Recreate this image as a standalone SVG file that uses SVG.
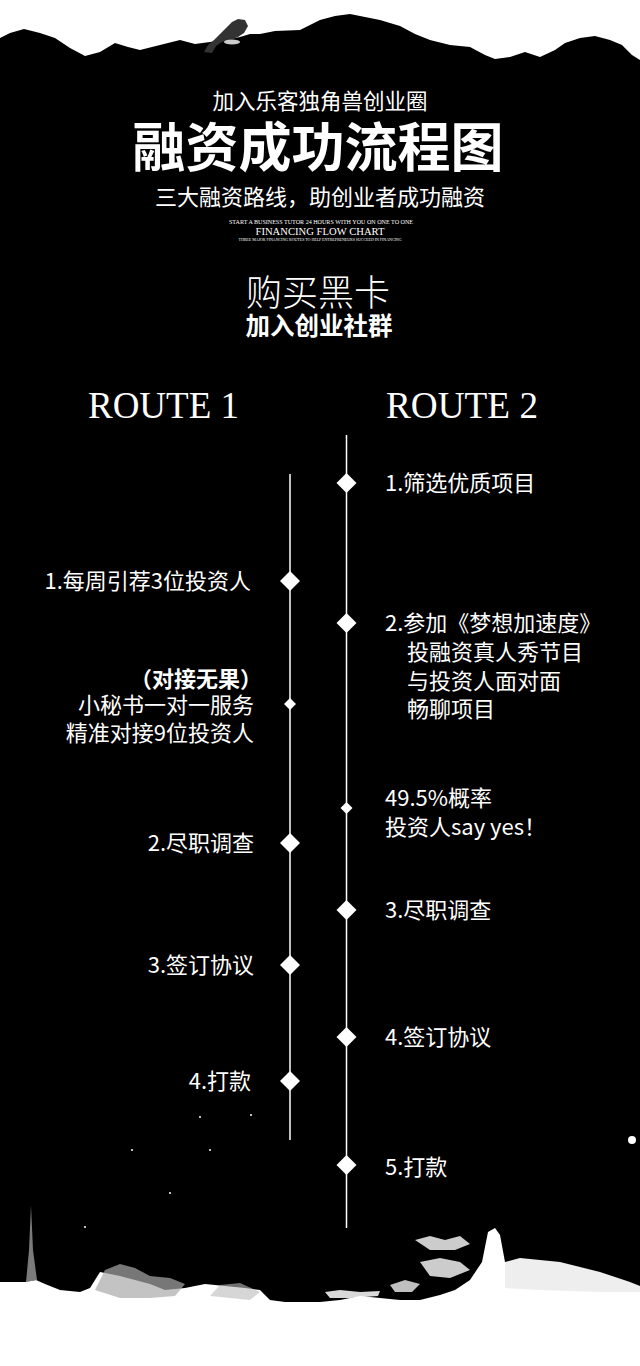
<svg xmlns="http://www.w3.org/2000/svg" width="640" height="1366" viewBox="0 0 640 1366">
<style>
.cn{font-family:"Noto Sans CJK SC","Noto Sans",sans-serif;fill:#fff;}
.step{font-size:22px;}
.en{font-family:"Liberation Serif","DejaVu Serif",serif;fill:#fff;}
.line{stroke:#fff;stroke-width:1.5;fill:none;}
.dia{fill:#fff;}
</style>
<defs>
<path id="d" d="M0,-10 L10,0 L0,10 L-10,0 Z"/>
<path id="ds" d="M0,-6 L6,0 L0,6 L-6,0 Z"/>
</defs>
<rect x="0" y="0" width="640" height="1366" fill="#fff"/>
<g id="ink">
<path fill="#000" d="M0,38 L10,33 L24,29 L40,33 L55,38 L70,48 L85,56 L100,52 L115,43 L128,47 L140,50 L160,45 L180,40 L195,44 L210,42 L225,40 L240,37 L250,34 L260,34 L275,31 L300,30 L320,20 L335,16 L350,14 L365,17 L380,20 L400,26 L415,34 L430,40 L450,45 L470,47 L485,55 L495,59 L510,57 L525,52 L540,57 L555,50 L565,43 L580,38 L595,36 L610,40 L622,45 L632,55 L640,60 L640,1290 L620,1285 L600,1280 L580,1272 L560,1268 L540,1266 L520,1264 L505,1262 L500,1235 L495,1228 L488,1232 L482,1262 L470,1280 L455,1290 L440,1295 L420,1300 L400,1300 L380,1298 L360,1296 L340,1300 L320,1302 L300,1302 L285,1302 L270,1300 L260,1290 L245,1288 L225,1286 L205,1284 L185,1288 L165,1290 L150,1284 L135,1280 L120,1276 L100,1272 L90,1288 L80,1292 L60,1290 L45,1284 L36,1280 L25,1282 L15,1282 L0,1282 Z"/>
<path fill="#333" d="M204,52 L208,45 L214,40 L220,34 L226,28 L232,22 L238,19 L245,20 L248,26 L244,33 L238,37 L230,40 L222,42 L216,46 L212,53 Z"/>
<ellipse cx="232" cy="42" rx="8" ry="2.5" fill="#fff" opacity="0.8"/>
<path fill="#999" opacity="0.8" d="M26,1282 L29,1250 L31,1205 L33,1250 L37,1280 Z"/>
<path fill="#aaa" opacity="0.7" d="M95,1290 L105,1270 L120,1264 L135,1268 L150,1276 L170,1278 L185,1284 L175,1296 L150,1298 L120,1298 Z"/>
<path fill="#bbb" opacity="0.6" d="M210,1296 L220,1285 L240,1283 L260,1292 L250,1300 Z"/>
<path fill="#fff" opacity="0.85" d="M325,1292 L340,1290 L360,1292 L380,1291 L378,1296 L350,1298 L330,1298 Z"/>
<path fill="#fff" opacity="0.8" d="M420,1262 L440,1258 L460,1262 L470,1270 L450,1278 L430,1276 Z"/>
<path fill="#fff" opacity="0.8" d="M415,1240 L430,1236 L445,1240 L460,1236 L470,1244 L455,1250 L430,1250 Z"/>
<path fill="#fff" opacity="0.75" d="M390,1285 L405,1280 L420,1284 L412,1292 L395,1292 Z"/>
<path fill="#eee" d="M505,1262 L520,1258 L560,1262 L600,1272 L630,1282 L640,1286 L640,1292 L600,1292 L540,1290 L505,1288 Z"/>
<circle cx="632" cy="1140" r="4" fill="#fff"/>
<circle cx="200" cy="1117" r="1" fill="#fff"/>
<circle cx="251" cy="1115" r="1" fill="#fff"/>
<circle cx="132" cy="1150" r="1" fill="#fff"/>
<circle cx="210" cy="1150" r="1" fill="#fff"/>
<circle cx="170" cy="1193" r="1" fill="#fff"/>
<circle cx="85" cy="1227" r="1" fill="#fff"/>
</g>
<g id="header">
<text class="cn" x="320" y="109" font-size="21.5" text-anchor="middle">加入乐客独角兽创业圈</text>
<text class="cn" x="318" y="167" font-size="53" font-weight="700" text-anchor="middle">融资成功流程图</text>
<text class="cn" x="320" y="205" font-size="22" text-anchor="middle">三大融资路线，助创业者成功融资</text>
<text class="en" x="321" y="224" font-size="5.5" text-anchor="middle" textLength="184" lengthAdjust="spacingAndGlyphs">START A BUSINESS TUTOR 24 HOURS WITH YOU ON ONE TO ONE</text>
<text class="en" x="320" y="235" font-size="10.5" text-anchor="middle" textLength="129" lengthAdjust="spacingAndGlyphs">FINANCING FLOW CHART</text>
<text class="en" x="320" y="241" font-size="4" text-anchor="middle" textLength="163" lengthAdjust="spacingAndGlyphs">THREE MAJOR FINANCING ROUTES TO HELP ENTREPRENEURS SUCCEED IN FINANCING</text>
</g>
<g id="start">
<text class="cn" x="318" y="306" font-size="36" font-weight="300" text-anchor="middle">购买黑卡</text>
<text class="cn" x="319" y="335" font-size="24.5" font-weight="700" text-anchor="middle">加入创业社群</text>
</g>
<g id="route1-title"><text class="en" x="88" y="418" font-size="38" textLength="151" lengthAdjust="spacingAndGlyphs">ROUTE 1</text></g>
<g id="route2-title"><text class="en" x="386" y="418" font-size="38" textLength="152" lengthAdjust="spacingAndGlyphs">ROUTE 2</text></g>
<g id="connectors">
<line class="line" x1="290" y1="474" x2="290" y2="1140"/>
<line class="line" x1="346.5" y1="435" x2="346.5" y2="1228"/>
</g>
<g id="r2-step1"><use href="#d" class="dia" x="346.5" y="483"/><text class="cn step" x="385" y="491.4">1.筛选优质项目</text></g>
<g id="r1-step1"><use href="#d" class="dia" x="290" y="581"/><text class="cn step" x="251" y="589.4" text-anchor="end">1.每周引荐3位投资人</text></g>
<g id="r2-step2"><use href="#d" class="dia" x="346.5" y="623"/>
<text class="cn step" x="385" y="631.4">2.参加《梦想加速度》</text>
<text class="cn step" x="407" y="660.4">投融资真人秀节目</text>
<text class="cn step" x="407" y="689.4">与投资人面对面</text>
<text class="cn step" x="407" y="717.4">畅聊项目</text></g>
<g id="r1-fallback"><use href="#ds" class="dia" x="290" y="704"/>
<text class="cn step" x="262" y="687.4" font-weight="700" text-anchor="end">（对接无果）</text>
<text class="cn step" x="254" y="713.4" text-anchor="end">小秘书一对一服务</text>
<text class="cn step" x="254" y="741.4" text-anchor="end">精准对接9位投资人</text></g>
<g id="r2-yes"><use href="#ds" class="dia" x="346.5" y="808"/>
<text class="cn step" x="385" y="806.4">49.5%概率</text>
<text class="cn step" x="385" y="835.4">投资人say yes！</text></g>
<g id="r1-step2"><use href="#d" class="dia" x="290" y="843"/><text class="cn step" x="254" y="851.4" text-anchor="end">2.尽职调查</text></g>
<g id="r2-step3"><use href="#d" class="dia" x="346.5" y="910"/><text class="cn step" x="385" y="918.4">3.尽职调查</text></g>
<g id="r1-step3"><use href="#d" class="dia" x="290" y="965"/><text class="cn step" x="254" y="973.4" text-anchor="end">3.签订协议</text></g>
<g id="r2-step4"><use href="#d" class="dia" x="346.5" y="1037"/><text class="cn step" x="385" y="1045.4">4.签订协议</text></g>
<g id="r1-step4"><use href="#d" class="dia" x="290" y="1081"/><text class="cn step" x="251" y="1089.4" text-anchor="end">4.打款</text></g>
<g id="r2-step5"><use href="#d" class="dia" x="346.5" y="1165"/><text class="cn step" x="385" y="1175">5.打款</text></g>
</svg>
